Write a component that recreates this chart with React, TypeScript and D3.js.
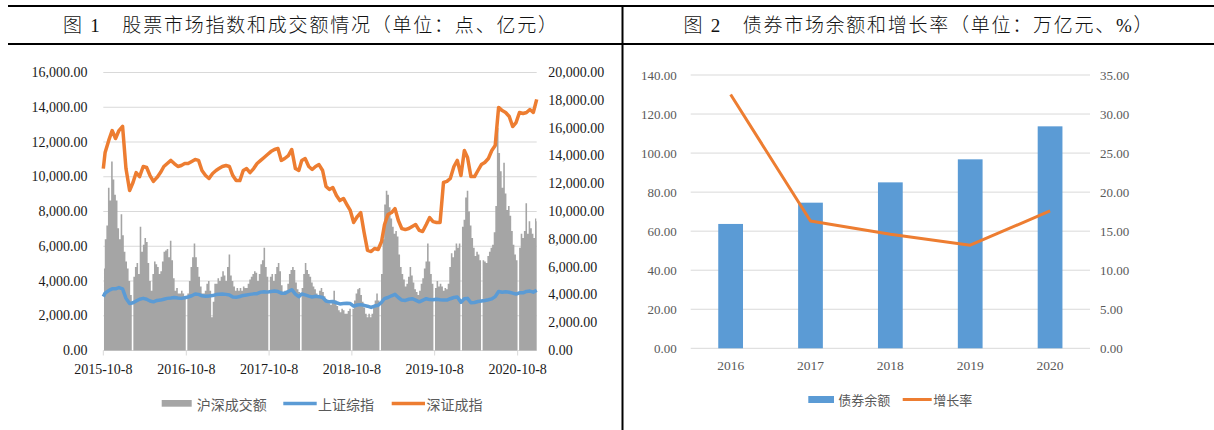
import * as d3 from 'd3';

// ---- 图1 data ----
const START = new Date(2015, 9, 8);
const END = new Date(2020, 11, 31);

// 深证成指, read on the 1st and 16th of each month (点)
const szComponent = [
  10470, 11400, 12090, 12660, 12200, 12660, 12900, 10470, 9210, 9670, 10240, 10010,
  10590, 10530, 10070, 9730, 9960, 10240, 10590, 10760, 10940, 10760, 10590, 10650,
  10760, 10760, 10880, 10990, 10940, 10360, 10070, 9900, 10190, 10360, 10470, 10590,
  10650, 10590, 10070, 9780, 9780, 10360, 10470, 10240, 10470, 10760, 10940, 11110,
  11280, 11450, 11570, 11630, 10940, 11050, 11220, 11570, 10470, 10360, 10940, 11050,
  10590, 10420, 10590, 10700, 10360, 9440, 9270, 9380, 8920, 8630, 8750, 8400,
  8060, 7370, 7710, 7940, 6790, 5760, 5700, 5870, 5810, 6270, 7250, 7830,
  7940, 8170, 7480, 7020, 6960, 7020, 7140, 7250, 6910, 6850, 7250, 7650,
  7420, 7370, 7370, 9670, 9730, 9900, 10590, 10940, 10070, 11510, 11110, 10010,
  10010, 10360, 10700, 10820, 11050, 11510, 11800, 13990, 13810, 13700, 13470, 12890,
  13120, 13700, 13640, 13700, 13870, 13700, 14450,
];

// 上证综指, same dates (点)
const shComposite = [
  3100, 3300, 3450, 3550, 3550, 3620, 3550, 3000, 2700, 2750, 2850, 2950,
  3000, 2950, 2850, 2800, 2880, 2900, 2950, 3000, 3020, 3050, 3020, 3000,
  3040, 3080, 3150, 3250, 3230, 3150, 3120, 3140, 3160, 3220, 3240, 3250,
  3230, 3200, 3080, 3060, 3110, 3170, 3200, 3230, 3260, 3270, 3360, 3380,
  3360, 3400, 3420, 3390, 3300, 3290, 3400, 3500, 3250, 3100, 3250, 3200,
  3130, 3080, 3120, 3100, 3050, 2850, 2800, 2820, 2750, 2680, 2700, 2720,
  2700, 2550, 2620, 2640, 2600, 2550, 2480, 2560, 2600, 2780, 2980, 3050,
  3150, 3230, 3050, 2900, 2880, 2950, 2980, 2900, 2800, 2890, 2980, 2930,
  2920, 2950, 2920, 2900, 2900, 2980, 3050, 3080, 2780, 2980, 3000, 2750,
  2760, 2820, 2850, 2880, 2920, 2970, 3100, 3400, 3350, 3380, 3350, 3300,
  3250, 3320, 3320, 3400, 3420, 3360, 3470,
];

// 沪深成交额, one value per week from 2015-10-8 (亿元); 0 = holiday break
const turnover = [
  5900, 8000, 9000, 11700, 10800, 13600, 12300, 11200, 10800, 8800, 8000, 9800, 8300,
  7100, 6400, 5900, 5000, 4000, 0, 5300, 6000, 6300, 5500, 8900, 7100, 7600,
  8100, 7800, 6300, 5000, 4300, 5500, 6400, 6200, 6000, 5500, 5700, 6400, 7100,
  7200, 7300, 6700, 7900, 6500, 5200, 4300, 4500, 4100, 4100, 4300, 4100, 3900,
  0, 4100, 5000, 6000, 6700, 7700, 6700, 6000, 5300, 4600, 4100, 4100, 4300,
  4800, 5000, 4300, 2400, 3500, 4800, 4800, 5200, 5000, 5300, 5700, 5400, 5000,
  6000, 6900, 5400, 5000, 4600, 4300, 4500, 4300, 4500, 4300, 4600, 4500, 4500,
  4800, 5100, 5300, 5500, 5700, 5600, 5000, 5500, 6200, 6500, 7400, 6000, 5300,
  0, 5300, 5500, 5000, 5500, 6000, 6300, 5700, 4700, 4200, 4300, 4300, 4800,
  5500, 5800, 6000, 5800, 4900, 4400, 4200, 0, 4500, 5500, 6300, 5800, 5500,
  5300, 4900, 4600, 4400, 4100, 4000, 4300, 4500, 4200, 3900, 3700, 3600, 3400,
  3300, 3600, 4300, 3600, 3200, 2900, 2750, 3000, 2900, 2650, 2650, 2850, 3000,
  0, 3000, 3600, 4100, 4400, 4500, 4000, 3500, 3100, 2650, 2400, 2650, 2400,
  2650, 3100, 3600, 4100, 3600, 0, 5500, 8000, 10500, 11500, 11200, 10300, 9500,
  8900, 8400, 8600, 8200, 6900, 6000, 5500, 5100, 4600, 4800, 5300, 6000, 5400,
  4900, 4400, 4200, 4000, 4300, 4800, 5200, 5900, 6400, 7700, 6400, 5500, 4800,
  0, 4500, 5000, 4600, 4800, 4600, 4300, 4500, 4400, 4800, 6000, 7000, 6700,
  7200, 7700, 7400, 7700, 0, 8900, 9400, 11000, 11500, 10000, 9000, 8100, 7400,
  6800, 7100, 6900, 6500, 0, 6500, 6400, 6300, 6800, 7100, 7400, 7600, 8500,
  10400, 16000, 14200, 12900, 11700, 13500, 11300, 10100, 10400, 9700, 8600, 7600, 6900,
  6500, 0, 7400, 8400, 8100, 8600, 10600, 8400, 9300, 8800, 8400, 8100, 9500,
  9300,
];

const dateLabels = ['2015-10-8', '2016-10-8', '2017-10-8', '2018-10-8', '2019-10-8', '2020-10-8'];
const indexTicks = [0, 2000, 4000, 6000, 8000, 10000, 12000, 14000, 16000];
const turnoverTicks = [0, 2000, 4000, 6000, 8000, 10000, 12000, 14000, 16000, 18000, 20000];

// ---- 图2 data ----
const years = ['2016', '2017', '2018', '2019', '2020'];
const bondBalance = [63.7, 74.6, 85.0, 96.8, 113.7];
const growthRate = [32.5, 16.3, 14.6, 13.2, 17.6];
const balanceTicks = [0, 20, 40, 60, 80, 100, 120, 140];
const rateTicks = [0, 5, 10, 15, 20, 25, 30, 35];

const halfMonthDates: Date[] = [
  START,
  new Date(2015, 9, 16),
  ...d3.timeMonth
    .range(new Date(2015, 10, 1), new Date(2021, 0, 1))
    .flatMap(m => [m, new Date(m.getFullYear(), m.getMonth(), 16)]),
  END,
];

const BLUE = '#5b9bd5';
const ORANGE = '#ed7d31';
const GRAY = '#a5a5a5';
const GRID = '#d9d9d9';
const SERIF = '"Liberation Serif", "Times New Roman", serif';
const CJK = '"Noto Sans CJK SC", "Noto Sans", sans-serif';
const TITLE_FONT = '"Liberation Serif", "Noto Sans CJK SC", serif';

function StockChart() {
  const x = d3.scaleTime().domain([START, END]).range([103.3, 536.7]);
  const yL = d3.scaleLinear().domain([0, 16000]).range([350.5, 72.5]);
  const yR = d3.scaleLinear().domain([0, 20000]).range([350.5, 72.5]);
  const fmt = d3.format(',.2f');
  const line = d3
    .line<number>()
    .x((_, i) => x(halfMonthDates[i]))
    .y(d => yL(d));
  const [x0, x1] = x.range();
  // weekly turnover as one stepped area (no seams between bars)
  const weekX = (i: number) => Math.min(x(d3.timeDay.offset(START, 7 * i + 3.5)), x1);
  const volArea = d3
    .area<number>()
    .x((_, i) => weekX(i))
    .y0(yR(0))
    .y1(d => yR(d))
    .curve(d3.curveStep);

  return (
    <g>
      {indexTicks.map(t => (
        <line key={t} x1={x0} x2={x1} y1={yL(t)} y2={yL(t)} stroke={GRID} strokeWidth={1} />
      ))}
      <path d={volArea(turnover) ?? ''} fill={GRAY} />
      <path d={line(shComposite) ?? ''} fill="none" stroke={BLUE} strokeWidth={3.5} strokeLinejoin="round" />
      <path d={line(szComponent) ?? ''} fill="none" stroke={ORANGE} strokeWidth={3.5} strokeLinejoin="round" />
      {indexTicks.map(t => (
        <text key={t} x={87.5} y={yL(t)} textAnchor="end" dominantBaseline="central" fontFamily={SERIF} fontSize={14} fill="#1a1a1a">
          {fmt(t)}
        </text>
      ))}
      {turnoverTicks.map(t => (
        <text key={t} x={548.3} y={yR(t)} textAnchor="start" dominantBaseline="central" fontFamily={SERIF} fontSize={14} fill="#1a1a1a">
          {fmt(t)}
        </text>
      ))}
      {dateLabels.map(s => {
        const [yy, mm, dd] = s.split('-').map(Number);
        const px = x(new Date(yy, mm - 1, dd));
        return (
          <g key={s}>
            <line x1={px} x2={px} y1={yL(0)} y2={yL(0) + 5} stroke={GRID} />
            <text x={px} y={369.5} textAnchor="middle" dominantBaseline="central" fontFamily={SERIF} fontSize={14} fill="#1a1a1a">
              {s}
            </text>
          </g>
        );
      })}
      {/* legend */}
      <rect x={161.7} y={400} width={30} height={6.7} fill={GRAY} />
      <text x={196.7} y={403.5} dominantBaseline="central" fontFamily={CJK} fontSize={14} fill="#595959">沪深成交额</text>
      <line x1={283.3} x2={316.7} y1={403.5} y2={403.5} stroke={BLUE} strokeWidth={3.5} />
      <text x={318} y={403.5} dominantBaseline="central" fontFamily={CJK} fontSize={14} fill="#595959">上证综指</text>
      <line x1={391.7} x2={425} y1={403.5} y2={403.5} stroke={ORANGE} strokeWidth={3.5} />
      <text x={426.5} y={403.5} dominantBaseline="central" fontFamily={CJK} fontSize={14} fill="#595959">深证成指</text>
    </g>
  );
}

function BondChart() {
  const x = d3.scaleBand<string>().domain(years).range([690.7, 1090]).padding(0);
  const y = d3.scaleLinear().domain([0, 140]).range([348.3, 75]);
  const y2 = d3.scaleLinear().domain([0, 35]).range([348.3, 75]);
  const fmt = d3.format('.2f');
  const barW = x.bandwidth() * 0.31;
  const cx = (yr: string) => (x(yr) ?? 0) + x.bandwidth() / 2;
  const line = d3
    .line<number>()
    .x((_, i) => cx(years[i]))
    .y(d => y2(d));
  const [r0, r1] = x.range();

  return (
    <g>
      {balanceTicks.map(t => (
        <line key={t} x1={r0} x2={r1} y1={y(t)} y2={y(t)} stroke={GRID} strokeWidth={1} />
      ))}
      {bondBalance.map((v, i) => (
        <rect key={i} x={cx(years[i]) - barW / 2} y={y(v)} width={barW} height={y(0) - y(v)} fill={BLUE} />
      ))}
      <path d={line(growthRate) ?? ''} fill="none" stroke={ORANGE} strokeWidth={3} strokeLinejoin="round" />
      {balanceTicks.map(t => (
        <text key={t} x={676.7} y={y(t)} textAnchor="end" dominantBaseline="central" fontFamily={SERIF} fontSize={13} fill="#595959">
          {fmt(t)}
        </text>
      ))}
      {rateTicks.map(t => (
        <text key={t} x={1100} y={y2(t)} textAnchor="start" dominantBaseline="central" fontFamily={SERIF} fontSize={13} fill="#595959">
          {fmt(t)}
        </text>
      ))}
      {years.map(yr => (
        <text key={yr} x={cx(yr)} y={365.7} textAnchor="middle" dominantBaseline="central" fontFamily={SERIF} fontSize={13.5} fill="#595959">
          {yr}
        </text>
      ))}
      <rect x={808.3} y={396} width={25.7} height={7} fill={BLUE} />
      <text x={838.3} y={399.5} dominantBaseline="central" fontFamily={CJK} fontSize={13} fill="#595959">债券余额</text>
      <line x1={902.7} x2={931.7} y1={399.5} y2={399.5} stroke={ORANGE} strokeWidth={3} />
      <text x={933.3} y={399.5} dominantBaseline="central" fontFamily={CJK} fontSize={13} fill="#595959">增长率</text>
    </g>
  );
}

export default function App() {
  return (
    <svg
      width={1214}
      height={430}
      style={{ position: 'absolute', left: 0, top: 0, background: '#fff' }}
    >
      <rect width={1214} height={430} fill="#fff" />
      <line x1={8} x2={1214} y1={6} y2={6} stroke="#000" strokeWidth={2} />
      <line x1={8} x2={1214} y1={44} y2={44} stroke="#000" strokeWidth={2} />
      <line x1={622.5} x2={622.5} y1={5} y2={430} stroke="#000" strokeWidth={2} />
      <text x={310} y={25} textAnchor="middle" dominantBaseline="central" fontFamily={TITLE_FONT} fontSize={19} fontWeight={300} fill="#111" textLength={494} lengthAdjust="spacing">
        {'图 1\u3000股票市场指数和成交额情况（单位：点、亿元）'}
      </text>
      <text x={918} y={25} textAnchor="middle" dominantBaseline="central" fontFamily={TITLE_FONT} fontSize={19} fontWeight={300} fill="#111" textLength={469} lengthAdjust="spacing">
        {'图 2\u3000债券市场余额和增长率（单位：万亿元、%）'}
      </text>
      <StockChart />
      <BondChart />
    </svg>
  );
}
